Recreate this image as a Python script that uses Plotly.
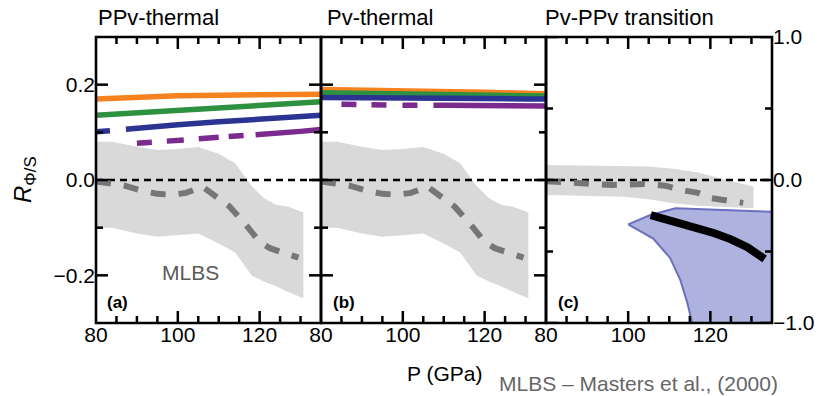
import plotly.graph_objects as go

# ---------------- data ----------------
P_lines = [80, 90, 100, 110, 120, 130, 135]
a_orange = [0.170, 0.174, 0.177, 0.178, 0.179, 0.180, 0.180]
a_green = [0.136, 0.141, 0.147, 0.152, 0.157, 0.162, 0.164]
a_blue = [0.101, 0.109, 0.116, 0.122, 0.128, 0.133, 0.136]
P_a_purple = [90, 100, 110, 120, 130, 135]
a_purple = [0.077, 0.083, 0.088, 0.095, 0.102, 0.106]

b_orange = [0.190, 0.189, 0.187, 0.186, 0.184, 0.182, 0.181]
b_green = [0.183, 0.182, 0.181, 0.179, 0.178, 0.177, 0.176]
b_blue = [0.173, 0.173, 0.172, 0.172, 0.171, 0.170, 0.170]
P_b_purple = [85, 90, 100, 110, 120, 130, 135]
b_purple = [0.159, 0.158, 0.157, 0.157, 0.156, 0.155, 0.155]

# MLBS (Masters et al., 2000) band and mean, panels a and b
P_band = [80, 84, 90, 95, 100, 105, 110, 114, 118, 121, 124, 127, 130.7]
band_upper = [0.080, 0.080, 0.070, 0.063, 0.065, 0.069, 0.055, 0.035, -0.012, -0.038, -0.052, -0.056, -0.068]
band_lower = [-0.100, -0.100, -0.112, -0.119, -0.116, -0.112, -0.133, -0.152, -0.200, -0.213, -0.223, -0.235, -0.248]
P_mean = [80, 83, 87, 91, 95, 98.5, 102, 106, 108.5, 112.7, 117, 120, 122.5, 126, 129.5]
mlbs_mean = [-0.003, -0.008, -0.012, -0.022, -0.029, -0.031, -0.027, -0.014, -0.031, -0.056, -0.098, -0.130, -0.143, -0.152, -0.163]

# panel c (right axis units)
P_band_c = [80, 90, 99, 105, 111, 117, 124, 130.5]
band_c_upper = [0.105, 0.100, 0.095, 0.095, 0.078, 0.052, 0.000, -0.045]
band_c_lower = [-0.105, -0.110, -0.117, -0.135, -0.163, -0.180, -0.190, -0.198]
P_mean_c = [80, 89, 96, 104, 109, 113, 117, 120, 124, 128]
mlbs_mean_c = [-0.008, -0.028, -0.035, -0.028, -0.040, -0.070, -0.090, -0.126, -0.147, -0.160]
P_region = [100, 105.4, 111.5, 135, 135, 115.6, 114.4, 112.7, 110.2, 106.1, 100]
region = [-0.31, -0.245, -0.197, -0.222, -1.0, -1.0, -0.86, -0.70, -0.545, -0.41, -0.31]
P_transition = [105.5, 109, 113, 117, 121, 125, 129, 133.2]
transition = [-0.245, -0.272, -0.300, -0.335, -0.372, -0.415, -0.470, -0.552]

x_ticks = [80, 100, 120]
x_minor = [85, 90, 95, 105, 110, 115, 125, 130]
y_ticks = [-0.2, 0.0, 0.2]
y_minor = [-0.1, 0.1]
yc_ticks = [-1.0, 0.0, 1.0]
yc_minor = [-0.5, 0.5]
titles = ["PPv-thermal", "Pv-thermal", "Pv-PPv transition"]
panel_labels = ["(a)", "(b)", "(c)"]

# ---------------- style ----------------
ORANGE = "#f5821f"
GREEN = "#2e9140"
BLUE = "#2b3393"
PURPLE = "#7b2a8e"
BAND = "#d9d9d9"
MEAN = "#767676"
FONT = "Liberation Sans"

fig = go.Figure()


def add_band(P, up, lo, xa, ya, fill):
    fig.add_trace(go.Scatter(x=P + P[::-1], y=up + lo[::-1], fill="toself",
                             fillcolor=fill, line=dict(width=0), mode="lines",
                             xaxis=xa, yaxis=ya, hoverinfo="skip", showlegend=False))


def add_line(P, v, xa, ya, color, width, dash="solid"):
    fig.add_trace(go.Scatter(x=P, y=v, mode="lines", xaxis=xa, yaxis=ya,
                             line=dict(color=color, width=width, dash=dash),
                             showlegend=False))


# panel a
add_band(P_band, band_upper, band_lower, "x", "y", BAND)
add_line([80, 135], [0, 0], "x", "y", "black", 2.5, "7px,5px")
add_line(P_mean, mlbs_mean, "x", "y", MEAN, 6, "15px,13px")
add_line(P_lines, a_orange, "x", "y", ORANGE, 5.5)
add_line(P_lines, a_green, "x", "y", GREEN, 5.5)
add_line(P_lines, a_blue, "x", "y", BLUE, 5.5, "14px,16px,800px")
add_line(P_a_purple, a_purple, "x", "y", PURPLE, 5.5,
         "15px,15px,17px,15px,20px,10px,15px,12px,800px")

# panel b
add_band(P_band, band_upper, band_lower, "x2", "y2", BAND)
add_line([80, 135], [0, 0], "x2", "y2", "black", 2.5, "7px,5px")
add_line(P_mean, mlbs_mean, "x2", "y2", MEAN, 6, "15px,13px")
add_line(P_lines, b_orange, "x2", "y2", ORANGE, 5.5)
add_line(P_lines, b_green, "x2", "y2", GREEN, 5.5)
add_line(P_lines, b_blue, "x2", "y2", BLUE, 5.5)
add_line(P_b_purple, b_purple, "x2", "y2", PURPLE, 5.5,
         "15px,15px,15px,16px,15px,16px,800px")

# panel c
add_band(P_band_c, band_c_upper, band_c_lower, "x3", "y3", BAND)
add_line([80, 135], [0, 0], "x3", "y3", "black", 2.5, "7px,5px")
add_line(P_mean_c, mlbs_mean_c, "x3", "y3", MEAN, 6, "15px,13px")
fig.add_trace(go.Scatter(x=P_region, y=region, fill="toself", fillcolor="#aeb2de",
                         line=dict(color="#6b6fc0", width=2), mode="lines",
                         xaxis="x3", yaxis="y3", showlegend=False))
add_line(P_transition, transition, "x3", "y3", "black", 8)

W = 676.0
H = 286.0
d1, d2 = 225 / W, 450 / W
PW = [225.0, 225.0, 226.0]


def xaxis_cfg(domain, anchor):
    return dict(domain=domain, anchor=anchor, range=[80, 135], tickvals=x_ticks,
                ticks="", showline=False, showgrid=False, zeroline=False,
                ticklabelstandoff=-3,
                tickfont=dict(family=FONT, size=21, color="black"))


def yaxis_cfg(anchor, rng, tv, **kw):
    d = dict(anchor=anchor, range=rng, tickvals=tv, tickformat=".1f",
             ticks="", showline=False, showgrid=False, zeroline=False,
             tickfont=dict(family=FONT, size=21, color="black"))
    d.update(kw)
    return d


fig.update_layout(
    width=818, height=396,
    margin=dict(l=96, r=46, t=37, b=73),
    plot_bgcolor="white",
    xaxis=xaxis_cfg([0, d1], "y"),
    xaxis2=xaxis_cfg([d1, d2], "y2"),
    xaxis3=xaxis_cfg([d2, 1], "y3"),
    yaxis=yaxis_cfg("x", [-0.3, 0.3], y_ticks),
    yaxis2=yaxis_cfg("x2", [-0.3, 0.3], y_ticks, showticklabels=False),
    yaxis3=yaxis_cfg("x3", [-1, 1], yc_ticks, side="right", automargin=False),
    showlegend=False,
)

# tick marks (inside, mirrored) and panel frames
panels = [("x", "y", y_ticks, y_minor), ("x2", "y2", y_ticks, y_minor),
          ("x3", "y3", yc_ticks, yc_minor)]
TW = 2.5
for (xa, ya, ytv, ymv), pw in zip(panels, PW):
    for vals, ln in [(x_ticks, 12), (x_minor, 7)]:
        for v in vals:
            if v <= 80:
                continue
            for y0, y1 in [(0, ln / H), (1 - ln / H, 1)]:
                fig.add_shape(type="line", xref=xa, yref=ya + " domain", x0=v, x1=v,
                              y0=y0, y1=y1, line=dict(color="black", width=TW),
                              layer="above")
    for vals, ln in [(ytv, 12), (ymv, 7)]:
        for v in vals:
            for x0, x1 in [(0, ln / pw), (1 - ln / pw, 1)]:
                fig.add_shape(type="line", xref=xa + " domain", yref=ya, x0=x0, x1=x1,
                              y0=v, y1=v, line=dict(color="black", width=TW),
                              layer="above")
    fig.add_shape(type="rect", xref=xa + " domain", yref=ya + " domain",
                  x0=0, x1=1, y0=0, y1=1, line=dict(color="black", width=2.6),
                  layer="above")


def px_x(x):
    return (x - 96) / W


def px_y(y):
    return (323 - y) / H


ann = []
for t, x in zip(titles, [96, 325, 543]):
    ann.append(dict(text=t, x=px_x(x), y=px_y(18), xanchor="left", yanchor="middle",
                    font=dict(size=22, family=FONT, color="black")))
for t, x in zip(panel_labels, [105, 331, 556]):
    ann.append(dict(text="<b>" + t + "</b>", x=px_x(x), y=px_y(302), xanchor="left",
                    yanchor="middle", font=dict(size=17, family=FONT, color="black")))
ann.append(dict(text="MLBS", x=px_x(190), y=px_y(272), xanchor="center", yanchor="middle",
                font=dict(size=21, family=FONT, color="#5a5a5a")))
ann.append(dict(text="P (GPa)", x=px_x(444), y=px_y(373), xanchor="center",
                yanchor="middle", font=dict(size=21, family=FONT, color="black")))
ann.append(dict(text="MLBS \u2013 Masters et al., (2000)", x=px_x(497), y=px_y(383),
                xanchor="left", yanchor="middle",
                font=dict(size=21, family=FONT, color="#666666")))
ann.append(dict(text="<i>R</i><sub>\u03a6/S</sub>", x=px_x(24), y=px_y(180),
                xanchor="center", yanchor="middle", textangle=-90,
                font=dict(size=24, family=FONT, color="black")))
for a in ann:
    a.update(xref="paper", yref="paper", showarrow=False)
fig.update_layout(annotations=ann)

fig.write_html("out.html")
